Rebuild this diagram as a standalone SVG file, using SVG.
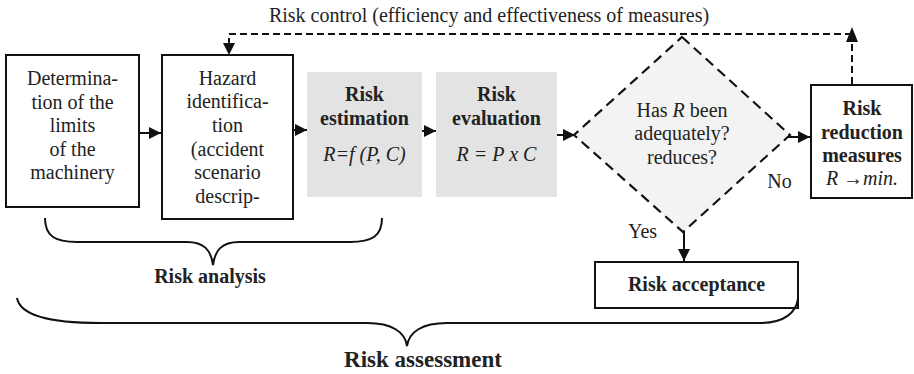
<svg xmlns="http://www.w3.org/2000/svg" width="914" height="374" viewBox="0 0 914 374">
<defs>
<style>
text{font-family:"Liberation Serif","Times New Roman",serif;font-size:20px;fill:#222;text-anchor:middle}
.b{font-weight:bold}
.i{font-style:italic}
.box{fill:#fff;stroke:#111;stroke-width:2}
.gray{fill:#e3e3e3;stroke:none}
.dia{fill:#f3f3f3;stroke:#111;stroke-width:2.2;stroke-dasharray:10 6}
.ln{fill:none;stroke:#111;stroke-width:2}
.dl{fill:none;stroke:#111;stroke-width:2;stroke-dasharray:7 4}
.br{fill:none;stroke:#111;stroke-width:2}
</style>
<marker id="ah" viewBox="0 0 12 12" refX="12" refY="6" markerWidth="12" markerHeight="12" markerUnits="userSpaceOnUse" orient="auto">
<path d="M0,0 L12,6 L0,12 Z" fill="#111"/>
</marker>
</defs>
<rect width="914" height="374" fill="#fff"/>
<text x="489" y="22">Risk control (efficiency and effectiveness of measures)</text>
<g id="limits">
<rect class="box" x="6" y="55" width="133" height="152"/>
<text x="72.5" y="85">Determina-</text>
<text x="72.5" y="108.5">tion of the</text>
<text x="72.5" y="132">limits</text>
<text x="72.5" y="155.5">of the</text>
<text x="72.5" y="179">machinery</text>
</g>
<g id="hazard">
<rect class="box" x="162" y="55" width="131" height="164"/>
<text x="227.5" y="84.5">Hazard</text>
<text x="227.5" y="108">identifica-</text>
<text x="227.5" y="132">tion</text>
<text x="227.5" y="155.5">(accident</text>
<text x="227.5" y="179">scenario</text>
<text x="227.5" y="203">descrip-</text>
</g>
<g id="estimation">
<rect class="gray" x="307" y="72" width="115" height="125"/>
<text class="b" x="364.5" y="101">Risk</text>
<text class="b" x="364.5" y="125">estimation</text>
<text class="i" x="364.5" y="161">R=f (P, C)</text>
</g>
<g id="evaluation">
<rect class="gray" x="436" y="72" width="121" height="125"/>
<text class="b" x="496.5" y="101">Risk</text>
<text class="b" x="496.5" y="125">evaluation</text>
<text class="i" x="496.5" y="161">R = P x C</text>
</g>
<g id="decision">
<polygon class="dia" points="682,37 790,135 683,232 574,135"/>
<text x="682" y="117">Has <tspan class="i">R</tspan> been</text>
<text x="682" y="140">adequately?</text>
<text x="682" y="164">reduces?</text>
</g>
<g id="reduction">
<rect class="box" x="811" y="85" width="101" height="113"/>
<text class="b" x="862" y="115">Risk</text>
<text class="b" x="862" y="139">reduction</text>
<text class="b" x="862" y="162">measures</text>
<text class="i" x="862" y="185">R →min.</text>
</g>
<g id="acceptance">
<rect class="box" x="595" y="262" width="203" height="46"/>
<text class="b" x="696.5" y="291">Risk acceptance</text>
</g>
<g id="connectors">
<line class="ln" x1="139" y1="133" x2="161" y2="133" marker-end="url(#ah)"/>
<line class="ln" x1="293" y1="130" x2="307" y2="130" marker-end="url(#ah)"/>
<line class="ln" x1="422" y1="131" x2="436" y2="131" marker-end="url(#ah)"/>
<line class="ln" x1="557" y1="135" x2="575" y2="135" marker-end="url(#ah)"/>
<line class="ln" x1="788" y1="137" x2="810" y2="137" marker-end="url(#ah)"/>
<line class="ln" x1="684" y1="232" x2="684" y2="261" marker-end="url(#ah)"/>
<polyline class="dl" points="852,84 852,40"/>
<path d="M846,42 L852,27 L858,42 Z" fill="#111"/>
<polyline class="dl" points="852,34 229,34 229,45"/>
<path d="M223,43 L229,55 L235,43 Z" fill="#111"/>
<text x="779.5" y="188">No</text>
<text x="642.5" y="238">Yes</text>
</g>
<g id="braces">
<path class="br" d="M45,218 C45,236 55,242 77,242 L187,242 C204,242 211,250 213,265 C215,250 222,242 239,242 L350,242 C372,242 382,236 382,218"/>
<text class="b" x="210" y="283">Risk analysis</text>
<path class="br" d="M17,298 C20,315 50,323 100,323 L367,323 C392,323 405,332 407,346 C409,332 422,323 447,323 L760,323 C785,323 796,312 798,299"/>
<text class="b" x="423" y="367" style="font-size:23px">Risk assessment</text>
</g>
</svg>
